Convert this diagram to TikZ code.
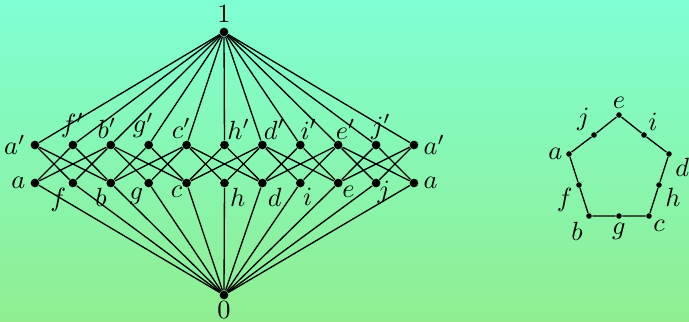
\documentclass[tikz,border=0pt]{standalone}
\begin{document}
\begin{tikzpicture}[x=0.38pt,y=-0.38pt,
  bigdot/.style={circle,fill=black,inner sep=0pt,minimum size=3.3pt},
  smalldot/.style={circle,fill=black,inner sep=0pt,minimum size=2.1pt},
  every label/.style={inner sep=0.6pt},
  lat/.style={line width=0.5pt},
  pent/.style={line width=0.5pt}]
\definecolor{topc}{RGB}{127,255,212}
\definecolor{botc}{RGB}{144,238,144}
\shade[top color=topc,bottom color=botc] (0,0) rectangle (689,321);
\useasboundingbox (0,0) rectangle (689,321);
% top and bottom elements
\node[bigdot,label={[label distance=1pt]above:$1$}] (one) at (224,32) {};
\node[bigdot,label={[label distance=-0.3pt]below:$0$}] (zero) at (224,295) {};
% top row (primes)
\node[bigdot,label={[label distance=1pt]left:$a'$}] (t0) at (35,145) {};
\node[bigdot,label={[xshift=-0.2pt]above:$f'$}] (t1) at (72.9,145) {};
\node[bigdot,label={[xshift=-1.5pt]above:$b'$}] (t2) at (110.8,145) {};
\node[bigdot,label={[xshift=-2pt]above:$g'$}] (t3) at (148.7,145) {};
\node[bigdot,label={[xshift=-2pt]above:$c'$}] (t4) at (186.6,145) {};
\node[bigdot,label={[xshift=-1pt]above right:$h'$}] (t5) at (224.5,145) {};
\node[bigdot,label={[xshift=-1.5pt]above right:$d'$}] (t6) at (262.4,145) {};
\node[bigdot,label={[xshift=-2pt]above right:$i'$}] (t7) at (300.3,145) {};
\node[bigdot,label={[xshift=-3pt]above right:$e'$}] (t8) at (338.2,145) {};
\node[bigdot,label={[xshift=-4pt]above right:$j'$}] (t9) at (376.1,145) {};
\node[bigdot,label={[label distance=1pt]right:$a'$}] (t10) at (414,145) {};
% bottom row
\node[bigdot,label={[label distance=1pt]left:$a$}] (b0) at (35,183) {};
\node[bigdot,label={[xshift=-0.5pt]below left:$f$}] (b1) at (72.9,183) {};
\node[bigdot,label={[xshift=0.5pt]below left:$b$}] (b2) at (110.8,183) {};
\node[bigdot,label={[xshift=0pt]below left:$g$}] (b3) at (148.7,183) {};
\node[bigdot,label={[xshift=0.5pt,yshift=1pt]below left:$c$}] (b4) at (186.6,183) {};
\node[bigdot,label={below right:$h$}] (b5) at (224.5,183) {};
\node[bigdot,label={below right:$d$}] (b6) at (262.4,183) {};
\node[bigdot,label={[xshift=-1pt]below right:$i$}] (b7) at (300.3,183) {};
\node[bigdot,label={[xshift=-0.5pt,yshift=1pt]below right:$e$}] (b8) at (338.2,183) {};
\node[bigdot,label={[xshift=-1.5pt,yshift=3pt]below right:$j$}] (b9) at (376.1,183) {};
\node[bigdot,label={[label distance=1pt]right:$a$}] (b10) at (414,183) {};
% edges
\foreach \i in {0,...,10} {
  \draw[lat] (one) -- (t\i);
  \draw[lat] (zero) -- (b\i);
}
\foreach \p/\q in {0/1,0/2,1/0,1/2,2/0,2/1,2/3,2/4,3/2,3/4,4/2,4/3,4/5,4/6,
                   5/4,5/6,6/4,6/5,6/7,6/8,7/6,7/8,8/6,8/7,8/9,8/10,9/8,9/10,10/8,10/9}
  \draw[lat] (b\p) -- (t\q);
% pentagon
\node[smalldot,label={[label distance=0.5pt]above:$e$}] (pe) at (619,115) {};
\node[smalldot,label={above left:$j$}] (pj) at (594,135) {};
\node[smalldot,label={above right:$i$}] (pi) at (644,135) {};
\node[smalldot,label={[label distance=0.5pt]left:$a$}] (pa) at (569,154) {};
\node[smalldot,label={[label distance=0.5pt]-25:$d$}] (pd) at (669,154) {};
\node[smalldot,label={[label distance=0.5pt]-160:$f$}] (pf) at (579,185) {};
\node[smalldot,label={[label distance=0.5pt]-20:$h$}] (ph) at (659,185) {};
\node[smalldot,label={[label distance=1pt]below left:$b$}] (pb) at (589,216) {};
\node[smalldot,label={[label distance=0.5pt]below:$g$}] (pg) at (619,216) {};
\node[smalldot,label={below right:$c$}] (pc) at (649,216) {};
\draw[pent] (pe) -- (pj) -- (pa) -- (pf) -- (pb) -- (pg) -- (pc) -- (ph) -- (pd) -- (pi) -- (pe);
\end{tikzpicture}
\end{document}
